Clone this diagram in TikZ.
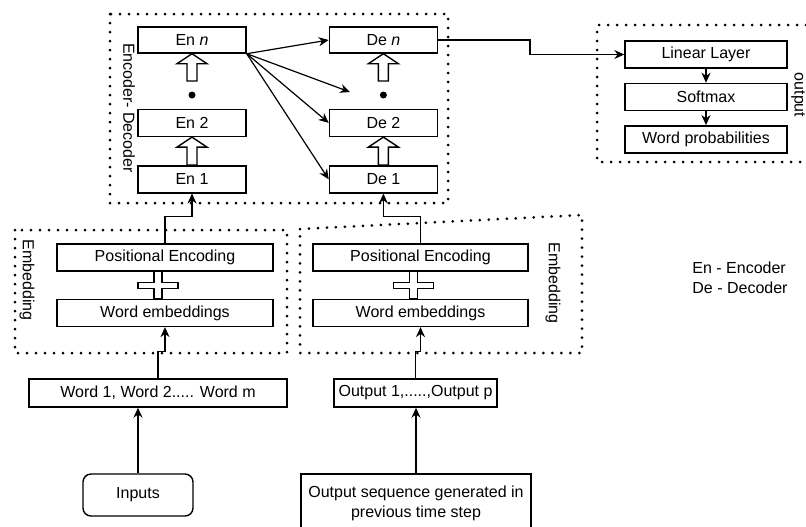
\documentclass[tikz,border=0pt]{standalone}
\usepackage{fontspec}
\setmainfont{Liberation Sans}
\usetikzlibrary{positioning, arrows.meta, calc}

% hollow block arrow from a base point up to a tip point
\newcommand{\hollowarrow}[2]{%
  \draw[hollowarr] let \p1=(#1), \p2=(#2) in
    (\x1-2.5pt,\y1) -- (\x1-2.5pt,\y2-5pt) -- (\x1-7.5pt,\y2-5pt) -- (\x1,\y2)
    -- (\x1+7.5pt,\y2-5pt) -- (\x1+2.5pt,\y2-5pt) -- (\x1+2.5pt,\y1) -- cycle;}
% hollow plus sign between two stacked boxes
\newcommand{\hollowplus}[2]{%
  \draw[hollowarr] let \p1=(#1), \p2=(#2), \n1={0.5*(\y1+\y2)} in
    (\x1-2pt,\y1) -- (\x1-2pt,\n1+1.5pt) -- (\x1-10pt,\n1+1.5pt) -- (\x1-10pt,\n1-1.5pt)
    -- (\x1-2pt,\n1-1.5pt) -- (\x1-2pt,\y2) -- (\x1+2pt,\y2) -- (\x1+2pt,\n1-1.5pt)
    -- (\x1+10pt,\n1-1.5pt) -- (\x1+10pt,\n1+1.5pt) -- (\x1+2pt,\n1+1.5pt) -- (\x1+2pt,\y1) -- cycle;}

\begin{document}
\begin{tikzpicture}[
    x=0.5pt, y=-0.5pt,
    font=\fontsize{8}{10}\selectfont,
    >={Stealth[length=5pt, width=4.5pt]},
    blk/.style={draw, line width=0.7pt, minimum height=13.5pt, inner sep=1pt, align=center},
    grp/.style={line width=1.5pt, dash pattern=on 0pt off 4.5pt, line cap=round},
    grplabel/.style={rotate=-90, inner sep=0pt},
    flow/.style={->, line width=0.7pt},
    fan/.style={->, line width=0.6pt},
    dotmark/.style={circle, fill, inner sep=0pt, minimum size=3.5pt},
    hollowarr/.style={draw, line width=0.7pt, fill=white}
  ]
    \useasboundingbox (0,0) rectangle (806,526);

    % group frames
    \draw[grp] (110,14) rectangle (448,203);
    \draw[grp] (15,230) rectangle (287,353);
    \draw[grp] (300,229) -- (582,215) -- (582,353) -- (300,353) -- cycle;
    \draw[grp] (806,25) -- (597,25) -- (597,162) -- (806,162);
    \node[grplabel] (edLabel) at (129,108) {Encoder- Decoder};
    \node[grplabel] (embLabelL) at (27,280) {Embedding};
    \node[grplabel] (embLabelR) at (553,283) {Embedding};
    \node[grplabel] (outLabel) at (798,95) {output};

    % encoder / decoder stacks
    \node[blk, minimum width=54pt, minimum height=13pt] (enN) at (192,40) {En \textit{n}};
    \node[blk, minimum width=54pt, below=27.5pt of enN] (en2) {En 2};
    \node[blk, minimum width=54pt, below=14pt of en2] (en1) {En 1};
    \node[blk, minimum width=54pt, minimum height=13pt, right=41pt of enN] (deN) {De \textit{n}};
    \node[blk, minimum width=54pt, below=27.5pt of deN] (de2) {De 2};
    \node[blk, minimum width=54pt, below=14pt of de2] (de1) {De 1};
    \node[dotmark] (dotE) at (192,95) {};
    \node[dotmark] (dotD) at (dotE -| deN) {};
    \hollowarrow{en1.north}{en2.south}
    \hollowarrow{$(dotE)+(0,-14)$}{enN.south}
    \hollowarrow{de1.north}{de2.south}
    \hollowarrow{$(dotD)+(0,-14)$}{deN.south}

    % output layer
    \node[blk, minimum width=81pt] (lin) at (706,54.5) {Linear Layer};
    \node[blk, minimum width=81pt, below=7pt of lin] (soft) {Softmax};
    \node[blk, minimum width=81pt, below=7pt of soft] (wprob) {Word probabilities};

    % embeddings
    \node[blk, minimum width=108pt] (peL) at (165,257.5) {Positional Encoding};
    \node[blk, minimum width=108pt, below=13.5pt of peL] (weL) {Word embeddings};
    \node[blk, minimum width=107.5pt] (peR) at (420.5,257.5) {Positional Encoding};
    \node[blk, minimum width=107.5pt, below=13.5pt of peR] (weR) {Word embeddings};
    \hollowplus{$(peL.south)+(-7,0)$}{$(weL.north)+(-7,0)$}
    \hollowplus{$(peR.south)+(-7,0)$}{$(weR.north)+(-7,0)$}

    % inputs
    \node[blk, minimum width=129pt, minimum height=14pt] (words) at (158,393) {Word 1, Word 2..... Word m};
    \node[blk, minimum width=81.5pt, minimum height=14pt] (outs) at (415.5,393) {Output 1,.....,Output p};
    \node[blk, minimum width=55pt, minimum height=21pt, rounded corners=4pt] (inputs) at (138,495) {Inputs};
    \node[blk, minimum width=115pt, minimum height=29pt] (outseq) at (416,503)
        {Output sequence generated in\\previous time step};

    \node[align=left, anchor=west, inner sep=0pt] (legend) at (692,278)
        {En - Encoder\\De - Decoder};

    % encoder top feeds every decoder layer
    \coordinate (nearDot) at (350,92);
    \draw[fan] (enN.south east) -- (deN.west);
    \draw[fan] (enN.south east) -- (nearDot);
    \draw[fan] (enN.south east) -- (de2.west);
    \draw[fan] (enN.south east) -- (de1.west);

    % decoder to output layer
    \coordinate (bend) at (530,48);
    \draw[flow] (deN.east) -| (bend) |- (lin.west);
    \draw[flow] (lin.south) -- (soft.north);
    \draw[flow] (soft.south) -- (wprob.north);

    % embeddings into the stacks
    \draw[flow] (peL.north) -- ++(0,-27) -| (en1.south);
    \draw[flow] (peR.north) -- ++(0,-27) -| (de1.south);
    \draw[flow] (words.north) -- ++(0,-27) -| (weL.south);
    \draw[flow] (outs.north) -- ++(0,-27) -| (weR.south);
    \draw[flow] (inputs.north) -- (inputs.north |- words.south);
    \draw[flow] (outseq.north) -- (outseq.north |- outs.south);
\end{tikzpicture}
\end{document}
